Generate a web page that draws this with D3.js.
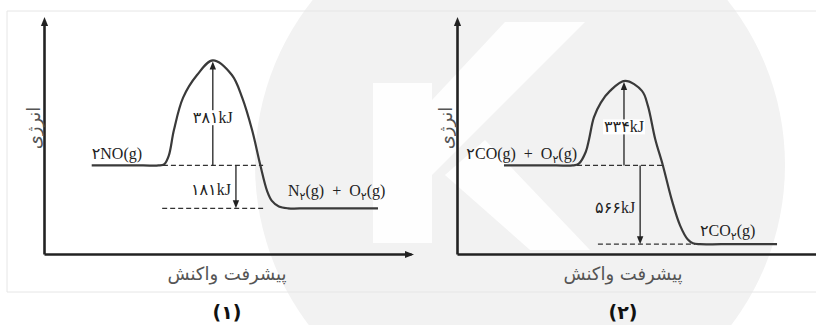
<!DOCTYPE html>
<html>
<head>
<meta charset="utf-8">
<script src="https://cdn.jsdelivr.net/npm/d3@7"></script>
<style>
body{margin:0;background:#fff;}
svg{display:block;}
</style>
</head>
<body>
<svg id="chart"></svg>
<script>
// captions / titles
var captions = ["(۱)","(۲)"];
var xTitle = "پیشرفت واکنش";
var yTitle = "انرژی";

// panel 1 : 2NO -> N2 + O2   (schematic energy, 0..100)
var curve1X = [13, 27, 31.2, 32.8, 34, 35.4, 37.9, 41.7, 46, 51.2, 54, 56.7, 58.9, 60.8, 62.1, 64, 66.5, 72, 91];
var curve1E = [38, 38, 38, 38.6, 42.2, 53.2, 67.1, 76.8, 83.1, 76.8, 67.1, 53.2, 38.4, 27, 22.8, 20.4, 19.6, 19.6, 19.6];
var level1  = [38, 19.6];              // reactants, products
var dash1   = [[32.4, 59.7], [32.2, 59.7]];
var arrow1X = [46, 52.3];              // activation arrow, enthalpy arrow
var energy1 = ["۳۸۱kJ", "۱۸۱kJ"];
var species1 = ["۲NO(g)", "N_۲(g)  +  O_۲(g)"];

// panel 2 : 2CO + O2 -> 2CO2
var curve2X = [12.8, 27, 31.5, 33.2, 35.1, 36, 37.3, 39.2, 41.7, 45.8, 50.4, 52, 54, 56.1, 58.6, 60.8, 62.9, 64.3, 66.2, 72, 87.2];
var curve2E = [38, 38, 38, 38.8, 43.9, 49.4, 58.6, 65, 70, 74.3, 70, 63.7, 49.4, 38, 22.8, 12.2, 6.2, 4.6, 4.2, 4.2, 4.2];
var level2  = [38, 4.2];
var dash2   = [[32.7, 56.7], [38.4, 64.9]];
var arrow2X = [45.5, 49.9];
var energy2 = ["۳۳۴kJ", "۵۶۶kJ"];
var species2 = ["۲CO(g)  +  O_۲(g)", "۲CO_۲(g)"];

var svgWidth = 816, svgHeight = 325;
var axisBottom = 254, axisTop = 17, axisLen = 367;
var latin = "'Liberation Serif', 'DejaVu Sans', serif";
var persian = "'DejaVu Sans', sans-serif";

var svg = d3.select("#chart")
	.attr("width", svgWidth)
	.attr("height", svgHeight);

drawWatermark(svg);

// faint frame of the scanned figure
svg.append("path")
	.attr("d", "M816,11 H7 V292 H816")
	.attr("fill", "none")
	.attr("stroke", "#e6e6e6")
	.attr("stroke-width", 1);

drawPanel(svg, {x0: 44, cx: 227, yt: 33, caption: captions[0],
	curveX: curve1X, curveE: curve1E, level: level1, dash: dash1,
	arrowX: arrow1X, energy: energy1, species: species1,
	speciesDy: [-6, -12], riseAt: 32.4, fallEnd: 66.5, reactEnd: false});
drawPanel(svg, {x0: 457, cx: 623, yt: 445, caption: captions[1],
	curveX: curve2X, curveE: curve2E, level: level2, dash: dash2,
	arrowX: arrow2X, energy: energy2, species: species2,
	speciesDy: [-6, -8], riseAt: 32.7, fallEnd: 66.2, reactEnd: true});

function drawWatermark(svg){
	var g = svg.append("g");
	g.append("circle")
		.attr("cx", 520).attr("cy", 165).attr("r", 265)
		.attr("fill", "#f2f2f2");
	var white = [
		[[373,83],[432,83],[432,243],[373,243]],
		[[432,100],[505,22],[585,22],[432,175]],
		[[445,175],[485,140],[590,250],[530,250]]
	];
	g.selectAll("polygon")
		.data(white)
		.enter()
		.append("polygon")
		.attr("points", function(d){ return d.join(" "); })
		.attr("fill", "#fefefe");
}

function triangle(g, x, y, dir, len, half){
	// dir: "up", "down", "right"
	var p;
	if(dir == "up")    p = [[x,y],[x-half,y+len],[x+half,y+len]];
	if(dir == "down")  p = [[x,y],[x-half,y-len],[x+half,y-len]];
	if(dir == "right") p = [[x,y],[x-len,y-half],[x-len,y+half]];
	g.append("polygon")
		.attr("points", p.join(" "))
		.attr("fill", "#222");
}

function drawSpecies(g, str, x, y){
	var t = g.append("text")
		.attr("x", x).attr("y", y)
		.attr("font-family", latin)
		.attr("font-size", "16px")
		.attr("fill", "#222")
		.style("white-space", "pre");
	var parts = str.split("_");
	t.append("tspan").text(parts[0]);
	for(var i = 1; i < parts.length; i++){
		t.append("tspan").attr("dy", 4).attr("font-size", "11px").text(parts[i].charAt(0));
		t.append("tspan").attr("dy", -4).text(parts[i].slice(1));
	}
	return t;
}

function drawPanel(svg, p){
	var x = d3.scaleLinear().domain([0, 100]).range([p.x0, p.x0 + axisLen]);
	var y = d3.scaleLinear().domain([0, 100]).range([axisBottom, axisTop + 4]);
	var g = svg.append("g");

	// axes (no ticks, only the domain line)
	g.append("g")
		.attr("transform", "translate(0," + axisBottom + ")")
		.call(d3.axisBottom(x).ticks(0).tickSizeOuter(0));
	g.append("g")
		.attr("transform", "translate(" + p.x0 + ",0)")
		.call(d3.axisLeft(y).ticks(0).tickSizeOuter(0));
	g.selectAll(".domain")
		.attr("stroke", "#222")
		.attr("stroke-width", 2.6);
	triangle(g, p.x0 + 0.5, axisTop, "up", 9, 3.6);
	triangle(g, x(100) + 3, axisBottom + 0.5, "right", 9, 3.6);

	// energy curve
	var pts = p.curveX.map(function(d, i){ return [d, p.curveE[i]]; });
	var line = d3.line()
		.x(function(d){ return x(d[0]); })
		.y(function(d){ return y(d[1]); })
		.curve(d3.curveCatmullRom.alpha(0.5));
	g.append("path")
		.attr("d", line(pts))
		.attr("fill", "none")
		.attr("stroke", "#3a3a3a")
		.attr("stroke-width", 2.2);

	// dashed reference levels
	g.selectAll("line.dash")
		.data(p.dash)
		.enter()
		.append("line")
		.attr("class", "dash")
		.attr("x1", function(d){ return x(d[0]); })
		.attr("x2", function(d){ return x(d[1]); })
		.attr("y1", function(d, i){ return y(p.level[i]); })
		.attr("y2", function(d, i){ return y(p.level[i]); })
		.attr("stroke", "#333")
		.attr("stroke-width", 1.3)
		.attr("stroke-dasharray", "5,3");

	var peak = d3.max(p.curveE);
	var yR = y(p.level[0]), yP = y(p.level[1]), yT = y(peak);

	// activation energy arrow (up)
	g.append("line")
		.attr("x1", x(p.arrowX[0])).attr("x2", x(p.arrowX[0]))
		.attr("y1", yR).attr("y2", yT + 6)
		.attr("stroke", "#222").attr("stroke-width", 1.3);
	triangle(g, x(p.arrowX[0]), yT + 1, "up", 8, 3.2);

	// reaction enthalpy arrow (down)
	g.append("line")
		.attr("x1", x(p.arrowX[1])).attr("x2", x(p.arrowX[1]))
		.attr("y1", yR).attr("y2", yP - 6)
		.attr("stroke", "#222").attr("stroke-width", 1.3);
	triangle(g, x(p.arrowX[1]), yP, "down", 8, 3.2);

	// energy labels
	var upY = yR - 0.45 * (yR - yT);
	var up = g.append("text")
		.attr("x", x(p.arrowX[0])).attr("y", upY + 5)
		.attr("text-anchor", "middle")
		.attr("font-family", latin)
		.attr("font-size", "16px")
		.attr("fill", "#222")
		.text(p.energy[0]);
	var bb = up.node().getBBox();
	g.insert("rect", function(){ return up.node(); })
		.attr("x", bb.x - 1).attr("y", bb.y + 1)
		.attr("width", bb.width + 2).attr("height", bb.height - 2)
		.attr("fill", "#fff");

	g.append("text")
		.attr("x", x(p.arrowX[1]) - 5).attr("y", (yR + yP) / 2 + 8)
		.attr("text-anchor", "end")
		.attr("font-family", latin)
		.attr("font-size", "16px")
		.attr("fill", "#222")
		.text(p.energy[1]);

	// species labels
	var sr = drawSpecies(g, p.species[0], x(p.curveX[0]), yR + p.speciesDy[0]);
	if(p.reactEnd){
		// this label ends where the curve starts to rise
		var wr = sr.node().getBBox().width;
		sr.attr("x", x(p.riseAt) - wr);
	}
	drawSpecies(g, p.species[1], x(p.fallEnd), yP + p.speciesDy[1]);

	// axis titles
	g.append("text")
		.attr("transform", "translate(" + (p.yt + 7) + "," + 128 + ") rotate(-90)")
		.attr("text-anchor", "middle")
		.attr("font-family", persian)
		.attr("font-size", "18px")
		.attr("fill", "#555")
		.text(yTitle);
	g.append("text")
		.attr("x", p.cx).attr("y", 280)
		.attr("text-anchor", "middle")
		.attr("font-family", persian)
		.attr("font-size", "18px")
		.attr("fill", "#555")
		.text(xTitle);

	// panel caption
	g.append("text")
		.attr("x", p.cx).attr("y", 319)
		.attr("text-anchor", "middle")
		.attr("font-family", "'DejaVu Sans', sans-serif")
		.attr("font-weight", "bold")
		.attr("font-size", "19px")
		.attr("fill", "#111")
		.text(p.caption);
}
</script>
</body>
</html>
